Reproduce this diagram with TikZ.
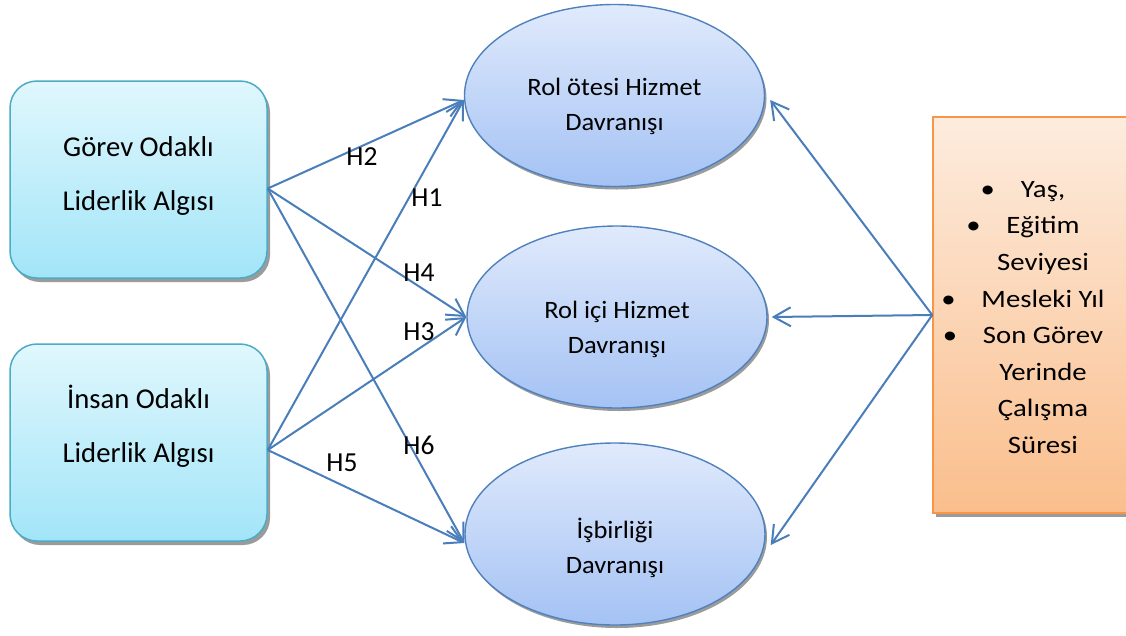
\documentclass[tikz,border=0pt]{standalone}
\usepackage{fontspec}
\setmainfont{Carlito}
\newfontfamily\rbfont[FakeStretch=1.15]{Carlito}
\newfontfamily\elfont[FakeStretch=1.06]{Carlito}
\usetikzlibrary{shapes.geometric,arrows.meta,shadows,calc}
\definecolor{arrowblue}{RGB}{74,126,187}
\definecolor{cyanborder}{RGB}{75,172,198}
\definecolor{cyantop}{RGB}{224,247,253}
\definecolor{cyanbot}{RGB}{162,229,248}
\definecolor{ellborder}{RGB}{79,129,189}
\definecolor{elltop}{RGB}{224,234,252}
\definecolor{ellbot}{RGB}{164,194,244}
\definecolor{orangeborder}{RGB}{247,150,70}
\definecolor{orangetop}{RGB}{253,236,222}
\definecolor{orangebot}{RGB}{250,190,140}
\definecolor{shadowgray}{RGB}{155,155,155}
\tikzset{
  boxshadow/.style={general shadow={shadow xshift=3pt, shadow yshift=-4pt, fill=shadowgray}},
  leftbox/.style={draw=cyanborder, line width=1.5pt, rounded corners=27pt,
    top color=cyantop, bottom color=cyanbot, minimum width=257pt, minimum height=197pt,
    inner sep=0pt, boxshadow},
  boxtext/.style={font=\fontsize{28.7}{54}\selectfont, align=center, inner sep=0pt},
  ellnode/.style={ellipse, draw=ellborder, line width=1.4pt, top color=elltop, bottom color=ellbot,
    minimum width=300pt, minimum height=182pt, inner sep=0pt,
    general shadow={shadow xshift=2pt, shadow yshift=-3pt, fill=shadowgray}},
  elltext/.style={font=\elfont\fontsize{25}{35}\selectfont, align=center, inner sep=0pt},
  rightbox/.style={draw=orangeborder, line width=1.5pt, top color=orangetop, bottom color=orangebot,
    minimum width=220pt, minimum height=396pt, inner sep=0pt, boxshadow},
  righttext/.style={font=\rbfont\fontsize{25}{36.6}\selectfont, align=center, inner sep=0pt},
  hlabel/.style={font=\fontsize{27.5}{30}\selectfont, inner sep=0pt},
  conn/.style={draw=arrowblue, line width=2pt, -{Straight Barb[length=17pt,width=19pt]}},
}
\newcommand{\bul}{\llap{\makebox[0pt]{•}\hspace{33pt}}}
\begin{document}
\begin{tikzpicture}[x=1pt,y=-1pt]
\clip (0,0) rectangle (1126,635);
\fill[white] (0,0) rectangle (1126,635);
% left boxes
\node[leftbox] (b1) at (138.5,179.5) {};
\node[boxtext] (t1) at (138.5,175.5) {Görev Odaklı\\Liderlik Algısı};
\node[leftbox] (b2) at (138.5,442.5) {};
\node[boxtext] (t2) at (138.5,426.5) {İnsan Odaklı\\Liderlik Algısı};
% ellipses
\node[ellnode] (e1) at (614.5,95.5) {};
\node[elltext] (te1) at (614.5,106.5) {Rol ötesi Hizmet\\Davranışı};
\node[ellnode] (e2) at (617,317) {};
\node[elltext] (te2) at (617,329.5) {Rol içi Hizmet\\Davranışı};
\node[ellnode] (e3) at (615,534) {};
\node[elltext] (te3) at (615,548) {İşbirliği\\Davranışı};
% right box
\node[rightbox] (rb) at (1043,315) {};
\node[righttext] (trb) at (1043,317.5) {\bul Yaş,\\\bul Eğitim\\Seviyesi\\\bul Mesleki Yıl\\\bul Son Görev\\Yerinde\\Çalışma\\Süresi};
% connectors from left boxes
\coordinate (s1) at ([yshift=-9pt]b1.east);
\coordinate (s2) at ([yshift=-7.5pt]b2.east);
\draw[conn] (s1) -- ([yshift=-4.5pt]e1.west);
\draw[conn] (s1) -- (e2.west);
\draw[conn] (s1) -- ([yshift=-9pt]e3.west);
\draw[conn] (s2) -- ([yshift=-4.5pt]e1.west);
\draw[conn] (s2) -- (e2.west);
\draw[conn] (s2) -- ([yshift=-9pt]e3.west);
% connectors from right box
\draw[conn] (rb.west) -- ([xshift=5pt,yshift=-4.5pt]e1.east);
\draw[conn] (rb.west) -- ([xshift=4pt]e2.east);
\draw[conn] (rb.west) -- ([xshift=5pt,yshift=-11pt]e3.east);
% hypothesis labels
\node[hlabel] (h2) at (362,157) {H2};
\node[hlabel] (h1) at (427,198) {H1};
\node[hlabel] (h4) at (419,273) {H4};
\node[hlabel] (h3) at (419,332) {H3};
\node[hlabel] (h6) at (419,445) {H6};
\node[hlabel] (h5) at (342,463) {H5};
\end{tikzpicture}
\end{document}
